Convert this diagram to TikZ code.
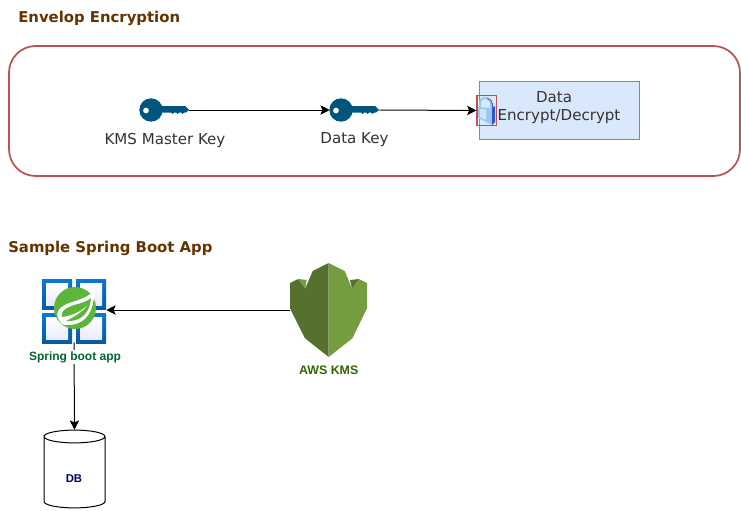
\documentclass[tikz,border=0pt]{standalone}
\usepackage{fontspec}
\setmainfont{DejaVu Sans}
\newfontfamily\labelfont{Liberation Sans}
\usetikzlibrary{arrows.meta}

\definecolor{titlebrown}{HTML}{663300}
\definecolor{redline}{HTML}{B85450}
\definecolor{bluefill}{HTML}{DAE8FC}
\definecolor{blueline}{HTML}{6C8EBF}
\definecolor{keyblue}{HTML}{00557F}
\definecolor{springgreen}{HTML}{006633}
\definecolor{kmsgreen}{HTML}{336600}
\definecolor{kmsdark}{HTML}{56702F}
\definecolor{kmslight}{HTML}{759C3E}
\definecolor{leafgreen}{HTML}{5DB53A}
\definecolor{tileblue}{HTML}{0A78D4}
\definecolor{dbnavy}{HTML}{000066}
\definecolor{lockblue}{HTML}{9CC8F0}
\definecolor{lockdark}{HTML}{2F55C8}

\tikzset{
  conn/.style={black, line width=0.75pt, -{Stealth[length=7pt,width=7pt,inset=1.5pt]}},
  title/.style={font=\bfseries\fontsize{11.15}{13}\selectfont, text=titlebrown, anchor=west, inner sep=0pt},
  keylabel/.style={font=\fontsize{11.3}{13.5}\selectfont, text=black!80, align=center, inner sep=0pt},
  keynode/.style={minimum width=36.75pt, minimum height=18pt, inner sep=0pt},
  tile/.pic={
    \fill[top color=tileblue, bottom color=tileblue!75!black] (0,0) rectangle (30,30);
    \fill[top color=white, bottom color=blue!8] (4,4) rectangle (26,26);
  },
  keyicon/.pic={
    \fill[keyblue, even odd rule] (0,0) circle (11.7) (-5,0.5) circle (3);
    \fill[keyblue] (5,-4) -- (34,-4) -- (38,0) -- (35,2.5) -- (33,2.5) -- (31.5,4) -- (30,2.5)
      -- (28,2.5) -- (26.5,4) -- (25,2.5) -- (23,2.5) -- (21.5,4) -- (20,2.5) -- (5,2.5) -- cycle;
  }
}

\begin{document}
\begin{tikzpicture}[x=0.75pt, y=-0.75pt]
  \useasboundingbox (0,0) rectangle (741,510);

  % upper part
  \node[title] (envtitle) at (18,18.5) {Envelop Encryption};
  \draw[redline, line width=1.3pt, rounded corners=20pt] (9,46) rectangle (740,176);

  \node[keynode] (masterkey) at (164.5,110) {};
  \node[keynode] (datakey) at (354.5,110) {};
  \pic at (151,110) {keyicon};
  \pic at (341,110) {keyicon};
  \node[keylabel] (masterlabel) at (165,140.5) {KMS Master Key};
  \node[keylabel] (datalabel) at (354.5,140) {Data Key};

  \node[draw=blueline, fill=bluefill, line width=0.75pt, minimum width=120pt, minimum height=43.5pt, inner sep=0pt] (databox) at (559.5,110) {};
  \node[keylabel] (datatext) at (559,108) {Data\hspace*{7.5pt}\\Encrypt/Decrypt};

  % lock
  \fill[lockblue] (477.5,107) -- (492,108) -- (492,125) -- (478,118) -- cycle;
  \fill[white, opacity=0.5] (480,109) -- (486,109.5) -- (486,120) -- (480,117) -- cycle;
  \fill[lockdark] (492,108) -- (495,106) -- (495,122) -- (492,125) -- cycle;
  \draw[lockblue, line width=1.6pt] (480,108) -- (480,103) .. controls (480,96) and (491,96) .. (491,103) -- (491,108);
  \draw[lockdark, line width=0.6pt] (487,98.5) .. controls (490,99.5) and (492,101) .. (492.5,104) -- (492.5,108);
  \node[draw=redline, line width=0.9pt, minimum width=14.6pt, minimum height=22.5pt, inner sep=0pt] (lock) at (486.8,110.5) {};

  \draw[conn] (masterkey.east) -- (datakey.west);
  \draw[conn] (datakey.east) -- (lock.west);

  % lower part
  \node[title] (apptitle) at (8,248.5) {Sample Spring Boot App};

  \node[minimum width=48pt, minimum height=48pt, inner sep=0pt] (spring) at (74,310) {};
  \pic at (42,279) {tile};
  \pic at (76,279) {tile};
  \pic at (42,313) {tile};
  \pic at (76,313) {tile};
  \fill[leafgreen] (75,308) circle (21);
  \fill[white] (94,290) .. controls (95,310) and (86,326) .. (66,325)
    .. controls (62,325) and (60,323) .. (59,320)
    .. controls (54,312) and (60,306) .. (72,302)
    .. controls (82,299) and (90,296) .. (94,290) -- cycle;
  \fill[leafgreen] (91,298) .. controls (90,312) and (82,322) .. (66,321)
    .. controls (72,318) and (84,312) .. (89,303)
    .. controls (82,312) and (70,316) .. (62,317)
    .. controls (60,311) and (66,308) .. (74,305)
    .. controls (82,303) and (88,301) .. (91,298) -- cycle;

  \node[minimum width=57.75pt, minimum height=70.5pt, inner sep=0pt] (kms) at (328.7,310) {};
  \fill[kmsdark] (328.7,263) -- (312.7,271) -- (305.3,288.3) -- (298.3,279) -- (290,283) -- (290,308.3)
    -- (305,338.3) -- (328.7,357) -- cycle;
  \fill[kmslight] (328.7,263) -- (344.7,271) -- (352,288.3) -- (359,279) -- (367,283) -- (367,308.3)
    -- (352.4,338.3) -- (328.7,357) -- cycle;
  \fill[kmslight] (298.3,279) -- (306.7,280) -- (305.3,288.3) -- cycle;
  \fill[kmsdark] (359,279) -- (350,280) -- (352,288.3) -- cycle;

  \node[minimum width=45.75pt, minimum height=58.5pt, inner sep=0pt] (db) at (74.5,469) {};
  \draw[black, line width=0.75pt] (44,436.5) arc[start angle=180, end angle=540, x radius=30.5, y radius=6.4]
    -- (44,501.5) arc[start angle=180, end angle=0, x radius=30.5, y radius=6.4] -- (105,436.5);
  \node[inner sep=0pt, font=\labelfont\bfseries\fontsize{8.5}{10}\selectfont, text=dbnavy] (dblabel) at (74,478.5) {DB};

  \draw[conn] (kms.west) -- (spring.east);
  \draw[conn] (spring.south) -- (db.north);

  \node[fill=white, inner sep=1pt, font=\labelfont\bfseries\fontsize{9}{11}\selectfont, text=springgreen] (springlabel) at (75,357) {Spring boot app};
  \node[inner sep=0pt, font=\labelfont\bfseries\fontsize{9.3}{11}\selectfont, text=kmsgreen] (kmslabel) at (328.7,370) {AWS KMS};
\end{tikzpicture}
\end{document}
